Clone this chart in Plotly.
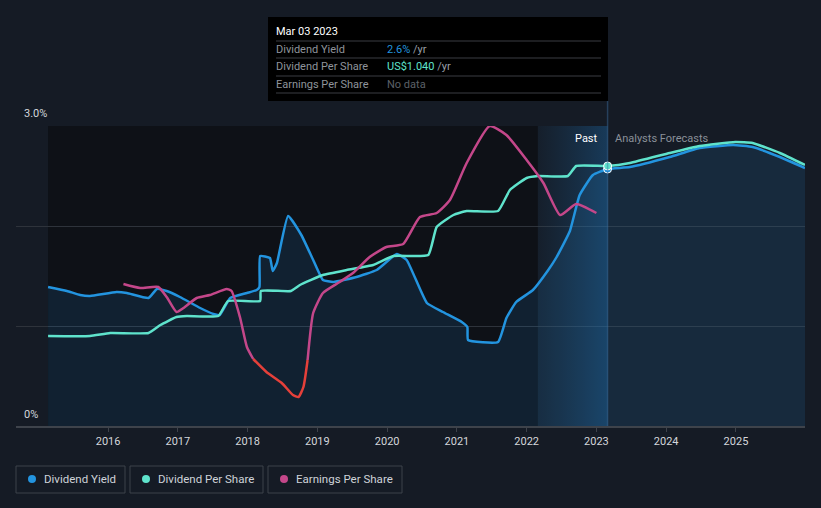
import plotly.graph_objects as go

# ---------------- data ----------------
yield_x = [2015.14, 2015.41, 2015.60, 2015.74, 2016.12, 2016.27, 2016.58, 2016.70, 2016.84, 2017.03,
           2017.32, 2017.51, 2017.60, 2017.75, 2017.99, 2018.13, 2018.17, 2018.18, 2018.32, 2018.36,
           2018.42, 2018.58, 2018.77, 2018.94, 2019.08, 2019.23, 2019.56, 2019.85, 2020.14, 2020.28,
           2020.57, 2020.80, 2021.07, 2021.15, 2021.16, 2021.59, 2021.71, 2021.85, 2022.09, 2022.30,
           2022.43, 2022.62, 2022.76, 2022.95, 2023.16, 2023.48, 2024.05, 2024.48, 2024.96, 2025.24,
           2025.63, 2025.99]
yield_pct = [1.39, 1.35, 1.31, 1.30, 1.34, 1.33, 1.28, 1.37, 1.35, 1.29,
             1.18, 1.12, 1.11, 1.28, 1.33, 1.36, 1.39, 1.70, 1.68, 1.55,
             1.63, 2.10, 1.91, 1.66, 1.46, 1.44, 1.49, 1.56, 1.72, 1.66,
             1.23, 1.14, 1.04, 0.99, 0.86, 0.84, 1.08, 1.24, 1.36, 1.55,
             1.69, 1.95, 2.31, 2.51, 2.57, 2.59, 2.69, 2.78, 2.81, 2.79,
             2.69, 2.58]

dps_x = [2015.14, 2015.74, 2016.03, 2016.58, 2016.75, 2016.98, 2017.13, 2017.58, 2017.72, 2018.18,
         2018.19, 2018.62, 2018.75, 2019.08, 2019.42, 2019.80, 2020.09, 2020.59, 2020.71, 2020.95,
         2021.14, 2021.59, 2021.76, 2022.00, 2022.16, 2022.59, 2022.71, 2023.16, 2023.48, 2024.05,
         2024.48, 2024.99, 2025.24, 2025.63, 2025.99]
dps_usd = [0.360, 0.360, 0.372, 0.372, 0.404, 0.436, 0.440, 0.440, 0.500, 0.500,
           0.540, 0.540, 0.564, 0.604, 0.624, 0.644, 0.680, 0.684, 0.796, 0.844,
           0.860, 0.860, 0.944, 0.992, 1.000, 1.000, 1.040, 1.040, 1.052, 1.092,
           1.120, 1.136, 1.132, 1.092, 1.044]

eps_x = [2016.22, 2016.46, 2016.72, 2016.84, 2016.98, 2017.08, 2017.27, 2017.46, 2017.70, 2017.77,
         2017.89, 2017.99, 2018.08, 2018.27, 2018.49, 2018.65, 2018.73, 2018.80, 2018.86, 2018.94,
         2019.08, 2019.32, 2019.51, 2019.75, 2019.99, 2020.23, 2020.47, 2020.71, 2020.90, 2021.14,
         2021.47, 2021.71, 2022.00, 2022.24, 2022.48, 2022.71, 2023.00]
eps_level = [1.42, 1.38, 1.39, 1.29, 1.14, 1.18, 1.28, 1.31, 1.37, 1.35,
             1.09, 0.79, 0.67, 0.54, 0.43, 0.31, 0.29, 0.39, 0.66, 1.13,
             1.33, 1.44, 1.53, 1.69, 1.79, 1.82, 2.09, 2.13, 2.26, 2.63,
             3.00, 2.91, 2.66, 2.43, 2.11, 2.22, 2.13]
eps_red_start, eps_red_end = 12, 18

year_ticks = [2016, 2017, 2018, 2019, 2020, 2021, 2022, 2023, 2024, 2025]
year_labels = [str(y) for y in year_ticks]

data_start = 2015.14
past_band_start = 2022.16
today = 2023.16
x_range = [2014.68, 2025.99]

# ---------------- style ----------------
BG = "#151b25"
DARK = "#0e1117"
BLUE = "#2394df"
TEAL = "#5fe3cc"
MAG = "#c4478a"
RED = "#e5403a"
FONT = "Roboto"

W, H = 821, 508
L, R, T, B = 16, 16, 126, 82
PW, PH = W - L - R, H - T - B


def px(x):
    return (x - L) / PW


def py(y):
    return (H - B - y) / PH


fig = go.Figure()

# past-year highlight band
fig.add_trace(go.Scatter(
    x=[past_band_start, today, today, past_band_start, past_band_start],
    y=[0, 0, 3, 3, 0], mode="lines", line=dict(width=0), fill="toself",
    fillgradient=dict(type="horizontal",
                      colorscale=[[0, "rgba(30,120,190,0.04)"], [1, "rgba(30,130,210,0.30)"]]),
    hoverinfo="skip", showlegend=False))

# dividend yield with fill
fig.add_trace(go.Scatter(
    x=yield_x, y=yield_pct, mode="lines", fill="tozeroy",
    fillcolor="rgba(35,148,223,0.13)",
    line=dict(color=BLUE, width=2.5, shape="spline", smoothing=0.4),
    cliponaxis=False, showlegend=False, name="Dividend Yield"))

# dividend per share
fig.add_trace(go.Scatter(
    x=dps_x, y=dps_usd, yaxis="y2", mode="lines",
    line=dict(color=TEAL, width=2.5, shape="spline", smoothing=0.4),
    cliponaxis=False, showlegend=False, name="Dividend Per Share"))

# earnings per share (magenta with red declining segment)
fig.add_trace(go.Scatter(
    x=eps_x[:eps_red_start + 1], y=eps_level[:eps_red_start + 1], yaxis="y3", mode="lines",
    line=dict(color=MAG, width=2.5, shape="spline", smoothing=0.5),
    cliponaxis=False, showlegend=False))
fig.add_trace(go.Scatter(
    x=eps_x[eps_red_start:eps_red_end + 1], y=eps_level[eps_red_start:eps_red_end + 1], yaxis="y3",
    mode="lines", line=dict(color=RED, width=2.5, shape="spline", smoothing=0.5),
    cliponaxis=False, showlegend=False))
fig.add_trace(go.Scatter(
    x=eps_x[eps_red_end:], y=eps_level[eps_red_end:], yaxis="y3", mode="lines",
    line=dict(color=MAG, width=2.5, shape="spline", smoothing=0.5),
    cliponaxis=False, showlegend=False))

# hover markers at today
fig.add_trace(go.Scatter(
    x=[yield_x[yield_x.index(today)]], y=[yield_pct[yield_x.index(today)]], mode="markers",
    marker=dict(color=BLUE, size=8, line=dict(color="white", width=1)),
    cliponaxis=False, showlegend=False))
fig.add_trace(go.Scatter(
    x=[dps_x[dps_x.index(today)]], y=[dps_usd[dps_x.index(today)]], yaxis="y2", mode="markers",
    marker=dict(color=TEAL, size=8, line=dict(color="white", width=1)),
    cliponaxis=False, showlegend=False))

shapes = [
    dict(type="rect", xref="x", yref="y", x0=data_start, x1=past_band_start, y0=0, y1=3,
         fillcolor=DARK, line=dict(width=0), layer="below"),
    dict(type="line", xref="x", yref="paper", x0=today, x1=today, y0=0, y1=py(101),
         line=dict(color="rgba(60,110,160,0.45)", width=1.5), layer="above"),
    # tooltip box
    dict(type="rect", xref="paper", yref="paper", x0=px(268), x1=px(608), y0=py(101), y1=py(17),
         fillcolor="#000000", line=dict(width=0), layer="above"),
]
for ly in [41, 58, 76, 93]:
    shapes.append(dict(type="line", xref="paper", yref="paper", x0=px(276), x1=px(601),
                       y0=py(ly), y1=py(ly), line=dict(color="#3a3d42", width=1), layer="above"))

# legend boxes
legend_items = [("Dividend Yield", BLUE, 16, 125), ("Dividend Per Share", TEAL, 130, 263),
                ("Earnings Per Share", MAG, 268, 402)]
annotations = []
for name, col, x0, x1 in legend_items:
    shapes.append(dict(type="rect", xref="paper", yref="paper", x0=px(x0), x1=px(x1),
                       y0=py(493), y1=py(466), line=dict(color="#3c424b", width=1),
                       fillcolor="rgba(0,0,0,0)"))
    shapes.append(dict(type="circle", xref="paper", yref="paper", x0=px(x0 + 12), x1=px(x0 + 20),
                       y0=py(483), y1=py(475), fillcolor=col, line=dict(width=0)))
    annotations.append(dict(x=px(x0 + 26), y=py(479.5), xref="paper", yref="paper", text=name,
                            showarrow=False, xanchor="left", yanchor="middle",
                            font=dict(color="#cfd3d9", size=11.5, family=FONT)))

# y labels
annotations.append(dict(x=px(22), y=py(114), xref="paper", yref="paper", text="3.0%", showarrow=False,
                        xanchor="left", yanchor="middle", font=dict(color="#d4d7dc", size=11, family=FONT)))
annotations.append(dict(x=px(22), y=py(414), xref="paper", yref="paper", text="0%", showarrow=False,
                        xanchor="left", yanchor="middle", font=dict(color="#d4d7dc", size=11, family=FONT)))

# past / forecast labels
annotations.append(dict(x=px(600), y=py(138), xref="paper", yref="paper", text="Past", showarrow=False,
                        xanchor="right", yanchor="middle", font=dict(color="#ffffff", size=11, family=FONT)))
annotations.append(dict(x=px(613), y=py(138), xref="paper", yref="paper", text="Analysts Forecasts",
                        showarrow=False, xanchor="left", yanchor="middle",
                        font=dict(color="#8a9099", size=11, family=FONT)))

# tooltip text
tip_rows = [
    ("Dividend Yield", "<span style='color:%s'>2.6%%</span> /yr" % BLUE, 49),
    ("Dividend Per Share", "<span style='color:%s'>US$1.040</span> /yr" % TEAL, 66),
    ("Earnings Per Share", "<span style='color:#5c6168'>No data</span>", 84),
]
annotations.append(dict(x=px(274), y=py(31), xref="paper", yref="paper", text="Mar 03 2023",
                        showarrow=False, xanchor="left", yanchor="middle",
                        font=dict(color="#ffffff", size=11, family=FONT)))
for lab, val, yy in tip_rows:
    annotations.append(dict(x=px(274), y=py(yy), xref="paper", yref="paper", text=lab, showarrow=False,
                            xanchor="left", yanchor="middle", font=dict(color="#8f949b", size=11, family=FONT)))
    annotations.append(dict(x=px(385), y=py(yy), xref="paper", yref="paper", text=val, showarrow=False,
                            xanchor="left", yanchor="middle", font=dict(color="#9a9fa6", size=11, family=FONT)))

fig.update_layout(
    width=W, height=H, margin=dict(l=L, r=R, t=T, b=B),
    paper_bgcolor=BG, plot_bgcolor=BG,
    font=dict(family=FONT, color="#d4d7dc", size=11),
    showlegend=False, hovermode=False,
    xaxis=dict(range=x_range, tickvals=year_ticks, ticktext=year_labels, showgrid=False,
               zeroline=False, showline=True, linecolor="#3e434b", linewidth=1.5,
               ticks="outside", ticklen=4, tickcolor="#3e434b", tickfont=dict(size=11, color="#d4d7dc")),
    yaxis=dict(range=[0, 3], tickvals=[0, 1, 2, 3], showticklabels=False, showgrid=True,
               gridcolor="#2e333b", gridwidth=1, zeroline=False),
    yaxis2=dict(range=[0, 1.2], overlaying="y", visible=False),
    yaxis3=dict(range=[0, 3], overlaying="y", visible=False),
    shapes=shapes, annotations=annotations,
)

fig.write_html("out.html", config={"displayModeBar": False},
               post_script="document.body.style.margin='0';document.body.style.background='%s';" % BG)
